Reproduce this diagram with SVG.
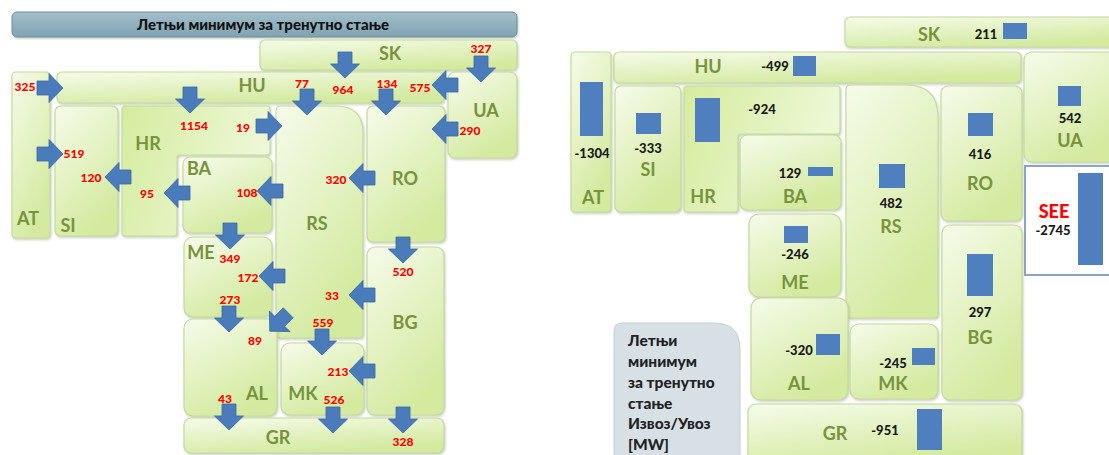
<svg xmlns="http://www.w3.org/2000/svg" width="1109" height="455" viewBox="0 0 1109 455">
<defs>
<linearGradient id="g" x1="0" y1="0" x2="0.5" y2="1">
<stop offset="0" stop-color="#f6fbea"/>
<stop offset="1" stop-color="#d3ea9f"/>
</linearGradient>
<linearGradient id="g2" x1="0" y1="0" x2="1" y2="0.3">
<stop offset="0" stop-color="#d4ec9e"/>
<stop offset="1" stop-color="#eef8d8"/>
</linearGradient>
<linearGradient id="gt" x1="0" y1="0" x2="0" y2="1">
<stop offset="0" stop-color="#a3bfca"/>
<stop offset="1" stop-color="#7fa3b2"/>
</linearGradient>
<filter id="sh" x="-10%" y="-10%" width="120%" height="120%">
<feDropShadow dx="1" dy="1.5" stdDeviation="1" flood-color="#8a9a7a" flood-opacity="0.45"/>
</filter>
<path id="ar" d="M-13,-7 H-1 V-14.5 L13,0 L-1,14.5 V7 H-13 Z"/>
<style>
.c{fill:url(#g);stroke:#c5da9e;stroke-width:1.2;filter:url(#sh)}
.c2{fill:url(#g2);stroke:#c5da9e;stroke-width:1.2;filter:url(#sh)}
.lb{font-family:Lato,"Liberation Sans",sans-serif;font-weight:bold;font-size:18px;fill:#77933c;text-anchor:middle}
.r{font-family:Lato,"Liberation Sans",sans-serif;font-weight:900;font-size:12px;fill:#ff0000;text-anchor:middle}
.n{font-family:Lato,"Liberation Sans",sans-serif;font-weight:900;font-size:13px;fill:#1a1a1a;text-anchor:middle}
.b{fill:#4f7fbe}
.arrows use{fill:#4a7cbc;stroke:#3c689f;stroke-width:0.8}
.lg{font-family:Lato,"Liberation Sans",sans-serif;font-weight:900;font-size:15.5px;fill:#222}
</style>
</defs>
<rect width="1109" height="455" fill="#ffffff"/>

<!-- LEFT MAP -->
<g id="title">
<rect x="12" y="12" width="505" height="25" rx="5" fill="url(#gt)" stroke="#6e8e9c" stroke-width="1" filter="url(#sh)"/>
<text x="263" y="30" font-family="Lato,'Liberation Sans',sans-serif" font-weight="900" font-size="15" fill="#111" text-anchor="middle">Летњи минимум за тренутно стање</text>
</g>
<g id="L-SK"><rect class="c" x="260" y="40" width="257" height="30" rx="5"/><text class="lb" x="390" y="60">SK</text></g>
<g id="L-HU"><rect class="c" x="57" y="72" width="387" height="31" rx="5"/><text class="lb" x="252" y="92">HU</text></g>
<g id="L-AT"><rect class="c" x="12" y="72" width="38" height="166" rx="4"/><text class="lb" x="28" y="225">AT</text></g>
<g id="L-SI"><rect class="c" x="55" y="106" width="63" height="130" rx="6"/><text class="lb" x="68" y="232">SI</text></g>
<g id="L-HR"><path class="c2" d="M125,106 H267 Q270,106 270,109 V152 Q270,155 267,155 H180 Q177,155 177,158 V233 Q177,236 174,236 H125 Q122,236 122,233 V109 Q122,106 125,106 Z"/><text class="lb" x="148" y="150">HR</text></g>
<g id="L-BA"><rect class="c" x="183" y="157" width="89" height="76" rx="7"/><text class="lb" x="199" y="175">BA</text></g>
<g id="L-RS"><path class="c" d="M281,106 H336 Q363,106 363,133 V334 Q363,338 359,338 H281 Q276,338 276,333 V111 Q276,106 281,106 Z"/><text class="lb" x="317" y="230">RS</text></g>
<g id="L-RO"><rect class="c" x="367" y="106" width="78" height="136" rx="6"/><text class="lb" x="405" y="185">RO</text></g>
<g id="L-UA"><rect class="c" x="448" y="72" width="69" height="86" rx="7"/><text class="lb" x="486" y="117">UA</text></g>
<g id="L-ME"><rect class="c" x="184" y="237" width="88" height="80" rx="9"/><text class="lb" x="201" y="259">ME</text></g>
<g id="L-AL"><rect class="c" x="184" y="319" width="93" height="97" rx="9"/><text class="lb" x="257" y="400">AL</text></g>
<g id="L-MK"><rect class="c" x="281" y="343" width="83" height="72" rx="9"/><text class="lb" x="303" y="400">MK</text></g>
<g id="L-BG"><rect class="c" x="367" y="247" width="77" height="168" rx="8"/><text class="lb" x="405" y="329">BG</text></g>
<g id="L-GR"><rect class="c" x="184" y="418" width="260" height="35" rx="7"/><text class="lb" x="278" y="444">GR</text></g>

<g id="flows" class="arrows">
<use href="#ar" transform="translate(50,88)"/>
<use href="#ar" transform="translate(50,154)"/>
<use href="#ar" transform="translate(190,100) rotate(90)"/>
<use href="#ar" transform="translate(269,126)"/>
<use href="#ar" transform="translate(118,177) rotate(180)"/>
<use href="#ar" transform="translate(177,193) rotate(180)"/>
<use href="#ar" transform="translate(270,191) rotate(180)"/>
<use href="#ar" transform="translate(307,102) rotate(90)"/>
<use href="#ar" transform="translate(345,65) rotate(90)"/>
<use href="#ar" transform="translate(386,102) rotate(90)"/>
<use href="#ar" transform="translate(445,85) rotate(180)"/>
<use href="#ar" transform="translate(481,69) rotate(90)"/>
<use href="#ar" transform="translate(445,129) rotate(180)"/>
<use href="#ar" transform="translate(362,178) rotate(180)"/>
<use href="#ar" transform="translate(230,236) rotate(90)"/>
<use href="#ar" transform="translate(272,276) rotate(180)"/>
<use href="#ar" transform="translate(229,319) rotate(90)"/>
<use href="#ar" transform="translate(279,322) rotate(135)"/>
<use href="#ar" transform="translate(362,295) rotate(180)"/>
<use href="#ar" transform="translate(403,250) rotate(90)"/>
<use href="#ar" transform="translate(322,342) rotate(90)"/>
<use href="#ar" transform="translate(362,371) rotate(180)"/>
<use href="#ar" transform="translate(229,417) rotate(90)"/>
<use href="#ar" transform="translate(333,420) rotate(90)"/>
<use href="#ar" transform="translate(403,420) rotate(90)"/>
</g>
<g id="flow-labels">
<text class="r" x="25" y="91">325</text>
<text class="r" x="74" y="158">519</text>
<text class="r" x="194" y="130">1154</text>
<text class="r" x="243" y="132">19</text>
<text class="r" x="91" y="182">120</text>
<text class="r" x="147" y="198">95</text>
<text class="r" x="247" y="197">108</text>
<text class="r" x="302" y="88">77</text>
<text class="r" x="343" y="94">964</text>
<text class="r" x="387" y="88">134</text>
<text class="r" x="420" y="92">575</text>
<text class="r" x="481" y="53">327</text>
<text class="r" x="470" y="135">290</text>
<text class="r" x="336" y="184">320</text>
<text class="r" x="230" y="263">349</text>
<text class="r" x="248" y="282">172</text>
<text class="r" x="230" y="304">273</text>
<text class="r" x="255" y="345">89</text>
<text class="r" x="332" y="300">33</text>
<text class="r" x="403" y="276">520</text>
<text class="r" x="323" y="327">559</text>
<text class="r" x="338" y="376">213</text>
<text class="r" x="225" y="403">43</text>
<text class="r" x="334" y="404">526</text>
<text class="r" x="403" y="446">328</text>
</g>

<!-- RIGHT MAP -->
<g id="R-SK"><rect class="c" x="845" y="17" width="275" height="30" rx="5"/><text class="lb" x="929" y="41">SK</text><text class="n" x="986" y="39">211</text><rect class="b" x="1003" y="23" width="24" height="16"/></g>
<g id="R-HU"><rect class="c" x="614" y="52" width="407" height="31" rx="5"/><text class="lb" x="708" y="73">HU</text><text class="n" x="775" y="71">-499</text><rect class="b" x="793" y="56" width="23" height="20"/></g>
<g id="R-AT"><rect class="c" x="571" y="52" width="40" height="160" rx="4"/><rect class="b" x="580" y="82" width="23" height="54"/><text class="n" x="592" y="158">-1304</text><text class="lb" x="593" y="204">AT</text></g>
<g id="R-SI"><rect class="c" x="615" y="86" width="66" height="126" rx="6"/><rect class="b" x="636" y="113" width="25" height="21"/><text class="n" x="648" y="153">-333</text><text class="lb" x="648" y="176">SI</text></g>
<g id="R-HR"><path class="c2" d="M687,86 H837 Q840,86 840,89 V131 Q840,134 837,134 H741 Q738,134 738,137 V209 Q738,212 735,212 H687 Q684,212 684,209 V89 Q684,86 687,86 Z"/><rect class="b" x="695" y="98" width="25" height="44"/><text class="n" x="762" y="114">-924</text><text class="lb" x="703" y="203">HR</text></g>
<g id="R-BA"><rect class="c" x="740" y="135" width="101" height="75" rx="7"/><text class="n" x="790" y="178">129</text><rect class="b" x="808" y="167" width="25" height="9"/><text class="lb" x="795" y="203">BA</text></g>
<g id="R-RS"><path class="c" d="M851,85 H906 Q938,85 938,117 V314 Q938,318 934,318 H851 Q846,318 846,313 V90 Q846,85 851,85 Z"/><rect class="b" x="879" y="164" width="26" height="24"/><text class="n" x="891" y="208">482</text><text class="lb" x="891" y="233">RS</text></g>
<g id="R-RO"><rect class="c" x="941" y="86" width="81" height="135" rx="7"/><rect class="b" x="968" y="113" width="25" height="23"/><text class="n" x="980" y="159">416</text><text class="lb" x="980" y="190">RO</text></g>
<g id="R-UA"><rect class="c" x="1024" y="52" width="96" height="110" rx="8"/><rect class="b" x="1058" y="86" width="23" height="20"/><text class="n" x="1070" y="123">542</text><text class="lb" x="1070" y="147">UA</text></g>
<g id="R-SEE"><rect x="1025" y="166" width="95" height="109" fill="#ffffff" stroke="#8fa3c2" stroke-width="2"/><text x="1054" y="218" font-family="Lato,'Liberation Sans',sans-serif" font-weight="900" font-size="18" fill="#ff0000" text-anchor="middle">SEE</text><text class="n" x="1053" y="235">-2745</text><rect class="b" x="1078" y="173" width="25" height="92"/></g>
<g id="R-BG"><rect class="c" x="942" y="225" width="80" height="175" rx="8"/><rect class="b" x="967" y="254" width="26" height="42"/><text class="n" x="980" y="317">297</text><text class="lb" x="980" y="344">BG</text></g>
<g id="R-ME"><rect class="c" x="749" y="214" width="92" height="83" rx="10"/><rect class="b" x="784" y="226" width="24" height="17"/><text class="n" x="795" y="259">-246</text><text class="lb" x="795" y="289">ME</text></g>
<g id="R-AL"><rect class="c" x="751" y="298" width="97" height="102" rx="10"/><text class="n" x="799" y="355">-320</text><rect class="b" x="816" y="334" width="24" height="21"/><text class="lb" x="799" y="390">AL</text></g>
<g id="R-MK"><rect class="c" x="850" y="324" width="88" height="75" rx="9"/><text class="n" x="893" y="368">-245</text><rect class="b" x="912" y="348" width="23" height="17"/><text class="lb" x="893" y="390">MK</text></g>
<g id="R-GR"><rect class="c" x="748" y="404" width="274" height="60" rx="8"/><text class="lb" x="835" y="440">GR</text><text class="n" x="885" y="435">-951</text><rect class="b" x="917" y="409" width="25" height="41"/></g>
<g id="legend">
<path d="M622,323 H714 Q740,323 740,349 V470 H614 V331 Q614,323 622,323 Z" fill="#d7e0e5" stroke="#c2ced5" stroke-width="1"/>
<text class="lg" x="628" y="346">Летњи</text>
<text class="lg" x="628" y="367">минимум</text>
<text class="lg" x="628" y="388">за тренутно</text>
<text class="lg" x="628" y="409">стање</text>
<text class="lg" x="628" y="429">Извоз/Увоз</text>
<text class="lg" x="628" y="450">[MW]</text>
</g>
</svg>
